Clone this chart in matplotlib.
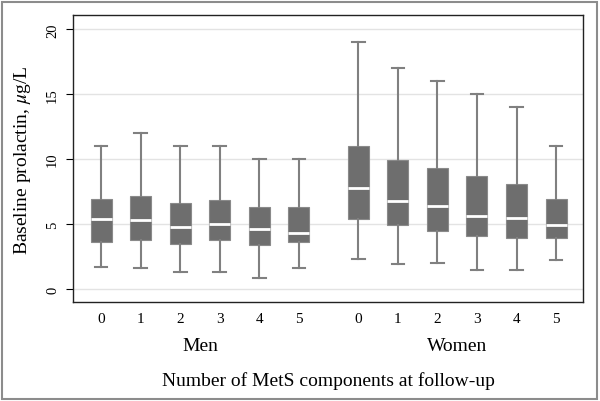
import matplotlib
matplotlib.use("Agg")
import matplotlib.pyplot as plt
from matplotlib.patches import Rectangle
import numpy as np

plt.rcParams["font.family"] = ["Liberation Serif", "DejaVu Serif"]
plt.rcParams["mathtext.fontset"] = "stix"

groups = ["Men", "Women"]
components = ["0", "1", "2", "3", "4", "5"]

# box stats per group, components 0..5
men_low = [1.7, 1.6, 1.3, 1.3, 0.87, 1.6]
men_q1 = [3.6, 3.8, 3.5, 3.8, 3.4, 3.6]
men_med = [5.4, 5.35, 4.75, 5.0, 4.6, 4.3]
men_q3 = [6.9, 7.2, 6.65, 6.85, 6.3, 6.3]
men_high = [11, 12, 11, 11, 10, 10]

women_low = [2.3, 1.9, 2.0, 1.5, 1.5, 2.2]
women_q1 = [5.4, 4.95, 4.45, 4.1, 3.9, 3.9]
women_med = [7.8, 6.8, 6.4, 5.6, 5.5, 4.95]
women_q3 = [11.05, 9.9, 9.35, 8.7, 8.05, 6.9]
women_high = [19, 17, 16, 15, 14, 11]


def make_stats(low, q1, med, q3, high):
    return [
        {"whislo": a, "q1": b, "med": c, "q3": d, "whishi": e, "fliers": []}
        for a, b, c, d, e in zip(low, q1, med, q3, high)
    ]


stats = make_stats(men_low, men_q1, men_med, men_q3, men_high) + \
    make_stats(women_low, women_q1, women_med, women_q3, women_high)
men_pos = np.arange(len(components))
women_pos = men_pos + len(components) + 0.5
positions = np.concatenate([men_pos, women_pos])

fig = plt.figure(figsize=(6.0, 4.02), dpi=100)
ax = fig.add_axes([73 / 600, 1 - 303 / 402, 510 / 600, 287 / 402])

box_color = "#6e6e6e"
line_color = "#808080"
ax.bxp(
    stats,
    positions=positions,
    widths=0.53,
    patch_artist=True,
    showfliers=False,
    boxprops=dict(facecolor=box_color, edgecolor="#8a8a8a", linewidth=0.8),
    whiskerprops=dict(color=line_color, linewidth=1.5),
    capprops=dict(color=line_color, linewidth=1.5),
    capwidths=0.32,
    medianprops=dict(color="white", linewidth=2),
    zorder=3,
)

ax.set_ylim(-1.0, 21.1)
ax.set_xlim(-0.71, women_pos[-1] + 0.68)
ax.set_yticks([0, 5, 10, 15, 20])
ax.set_yticklabels(["0", "5", "10", "15", "20"], rotation=90, va="center", fontsize=10.5)
ax.grid(axis="y", color="#e3e3e3", linewidth=1, zorder=0)
ax.set_axisbelow(True)

ax.set_xticks(positions)
ax.set_xticklabels(components * 2, fontsize=11)
ax.tick_params(axis="x", length=0, pad=7)
ax.tick_params(axis="y", length=5, width=0.8, pad=5)
for s in ax.spines.values():
    s.set_color("#222222")
    s.set_linewidth(1.0)

for name, pos in zip(groups, [men_pos, women_pos]):
    ax.text(pos.mean(), -0.153, name, transform=ax.get_xaxis_transform(),
            ha="center", va="center", fontsize=14)

fig.text(328 / 600, 1 - 381 / 402, "Number of MetS components at follow-up",
         ha="center", va="center", fontsize=14)
fig.text(23 / 600, 1 - 160 / 402, r"Baseline prolactin, $\mu$g/L",
         ha="center", va="center", rotation=90, fontsize=14)

fig.patches.append(Rectangle((2 / 600, 2 / 402), 595 / 600, 397 / 402,
                             transform=fig.transFigure, fill=False,
                             edgecolor="#8c8c8c", linewidth=1.5))

fig.savefig("out.png", dpi=100)
